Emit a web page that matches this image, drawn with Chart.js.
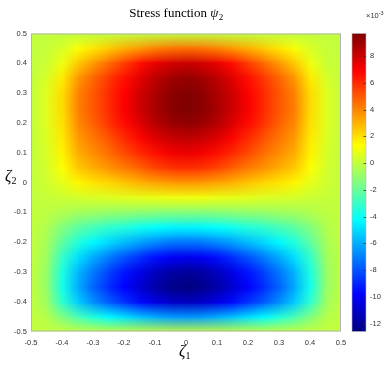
<!DOCTYPE html>
<html lang="en">
<head>
<meta charset="UTF-8">
<title>Stress function psi2</title>
<script src="https://cdn.jsdelivr.net/npm/chart.js@4.4.1/dist/chart.umd.min.js"></script>
<style>
  html, body { margin: 0; padding: 0; background: #fff; }
  #box { position: relative; width: 389px; height: 365px; }
</style>
</head>
<body>
<div id="box"><canvas id="cv"></canvas></div>
<script>
// grid of the field: columns follow zeta1, rows follow zeta2 (bottom row first)
const zeta1 = [-0.5, -0.45, -0.4, -0.35, -0.3, -0.25, -0.2, -0.15, -0.1, -0.05, 0, 0.05, 0.1, 0.15, 0.2, 0.25, 0.3, 0.35, 0.4, 0.45, 0.5];
const zeta2 = [-0.5, -0.45, -0.4, -0.35, -0.3, -0.25, -0.2, -0.15, -0.1, -0.05, 0, 0.05, 0.1, 0.15, 0.2, 0.25, 0.3, 0.35, 0.4, 0.45, 0.5];

// psi2 in units of 1e-3
const psi2 = [
  [0, 0, 0, 0, 0, 0, 0, 0, 0, 0, 0, 0, 0, 0, 0, 0, 0, 0, 0, 0, 0],
  [0, -0.3, -1.4, -2.6, -3.5, -4.3, -4.9, -5.5, -6.0, -6.4, -6.5, -6.4, -6.0, -5.5, -4.9, -4.3, -3.5, -2.6, -1.4, -0.3, 0],
  [0, -0.8, -3.2, -5.3, -6.7, -7.8, -8.7, -9.6, -10.4, -11.0, -11.2, -11.0, -10.4, -9.6, -8.7, -7.8, -6.7, -5.3, -3.2, -0.8, 0],
  [0, -1.0, -3.8, -6.0, -7.6, -8.8, -9.8, -10.8, -11.7, -12.3, -12.6, -12.3, -11.7, -10.8, -9.8, -8.8, -7.6, -6.0, -3.8, -1.0, 0],
  [0, -1.0, -3.6, -5.8, -7.2, -8.4, -9.4, -10.3, -11.2, -11.8, -12.0, -11.8, -11.2, -10.3, -9.4, -8.4, -7.2, -5.8, -3.6, -1.0, 0],
  [0, -0.8, -3.1, -4.9, -6.1, -7.1, -8.0, -8.8, -9.5, -10.0, -10.2, -10.0, -9.5, -8.8, -8.0, -7.1, -6.1, -4.9, -3.1, -0.8, 0],
  [0, -0.6, -2.2, -3.5, -4.4, -5.1, -5.7, -6.3, -6.8, -7.2, -7.3, -7.2, -6.8, -6.3, -5.7, -5.1, -4.4, -3.5, -2.2, -0.6, 0],
  [0, -0.4, -1.4, -2.2, -2.7, -3.2, -3.5, -3.9, -4.2, -4.4, -4.5, -4.4, -4.2, -3.9, -3.5, -3.2, -2.7, -2.2, -1.4, -0.4, 0],
  [0, -0.1, -0.4, -0.7, -0.8, -1.0, -1.1, -1.2, -1.3, -1.4, -1.4, -1.4, -1.3, -1.2, -1.1, -1.0, -0.8, -0.7, -0.4, -0.1, 0],
  [0, 0.1, 0.2, 0.4, 0.5, 0.6, 0.7, 0.8, 0.9, 1.0, 1.0, 1.0, 0.9, 0.8, 0.7, 0.6, 0.5, 0.4, 0.2, 0.1, 0],
  [0, 0.3, 0.8, 1.5, 1.9, 2.2, 2.6, 3.0, 3.3, 3.5, 3.6, 3.5, 3.3, 3.0, 2.6, 2.2, 1.9, 1.5, 0.8, 0.3, 0],
  [0, 0.4, 1.3, 2.5, 3.1, 3.7, 4.2, 4.8, 5.4, 5.8, 5.9, 5.8, 5.4, 4.8, 4.2, 3.7, 3.1, 2.5, 1.3, 0.4, 0],
  [0, 0.5, 1.6, 3.1, 3.8, 4.5, 5.3, 6.0, 6.6, 7.1, 7.3, 7.1, 6.6, 6.0, 5.3, 4.5, 3.8, 3.1, 1.6, 0.5, 0],
  [0, 0.6, 1.8, 3.5, 4.3, 5.1, 6.0, 6.8, 7.6, 8.1, 8.3, 8.1, 7.6, 6.8, 6.0, 5.1, 4.3, 3.5, 1.8, 0.6, 0],
  [0, 0.7, 2.0, 3.9, 4.8, 5.8, 6.7, 7.6, 8.5, 9.1, 9.3, 9.1, 8.5, 7.6, 6.7, 5.8, 4.8, 3.9, 2.0, 0.7, 0],
  [0, 0.7, 2.1, 4.1, 5.0, 6.0, 7.0, 8.0, 8.8, 9.5, 9.7, 9.5, 8.8, 8.0, 7.0, 6.0, 5.0, 4.1, 2.1, 0.7, 0],
  [0, 0.7, 2.1, 4.0, 5.0, 6.0, 6.9, 7.9, 8.7, 9.4, 9.6, 9.4, 8.7, 7.9, 6.9, 6.0, 5.0, 4.0, 2.1, 0.7, 0],
  [0, 0.5, 1.8, 3.6, 4.7, 5.7, 6.6, 7.5, 8.4, 9.0, 9.2, 9.0, 8.4, 7.5, 6.6, 5.7, 4.7, 3.6, 1.8, 0.5, 0],
  [0, 0.2, 1.0, 2.5, 3.6, 4.6, 5.6, 6.6, 7.4, 7.9, 8.1, 7.9, 7.4, 6.6, 5.6, 4.6, 3.6, 2.5, 1.0, 0.2, 0],
  [0, 0.1, 0.5, 1.2, 1.9, 2.5, 3.1, 3.6, 4.1, 4.4, 4.5, 4.4, 4.1, 3.6, 3.1, 2.5, 1.9, 1.2, 0.5, 0.1, 0],
  [0, 0, 0, 0, 0, 0, 0, 0, 0, 0, 0, 0, 0, 0, 0, 0, 0, 0, 0, 0, 0]
];

const xTicks = [-0.5, -0.4, -0.3, -0.2, -0.1, 0, 0.1, 0.2, 0.3, 0.4, 0.5];
const yTicks = [-0.5, -0.4, -0.3, -0.2, -0.1, 0, 0.1, 0.2, 0.3, 0.4, 0.5];
const cbTicks = [-12, -10, -8, -6, -4, -2, 0, 2, 4, 6, 8];

const flat = psi2.flat();
const cMin = Math.min(...flat), cMax = Math.max(...flat);

const tickFont = { family: 'Liberation Sans', size: 7.5 };
const tickColor = '#333';
const fmt = v => String(Math.round(v * 10) / 10);

// matlab jet
function jet(t) {
  t = Math.max(0, Math.min(1, t));
  const c = v => Math.round(255 * Math.max(0, Math.min(1, v)));
  return [c(Math.min(4 * t - 1.5, -4 * t + 4.5)), c(Math.min(4 * t - 0.5, -4 * t + 3.5)), c(Math.min(4 * t + 0.5, -4 * t + 2.5))];
}

const heatmap = {
  id: 'heatmap',
  beforeDatasetsDraw(chart) {
    const { ctx, chartArea: a, scales: { x, y } } = chart;
    const nx = zeta1.length, ny = zeta2.length;
    const off = document.createElement('canvas');
    off.width = nx; off.height = ny;
    const octx = off.getContext('2d');
    const img = octx.createImageData(nx, ny);
    for (let j = 0; j < ny; j++) {
      for (let i = 0; i < nx; i++) {
        const col = jet((psi2[j][i] - cMin) / (cMax - cMin));
        const k = ((ny - 1 - j) * nx + i) * 4;
        img.data[k] = col[0]; img.data[k + 1] = col[1]; img.data[k + 2] = col[2]; img.data[k + 3] = 255;
      }
    }
    octx.putImageData(img, 0, 0);
    const dx = (zeta1[1] - zeta1[0]) / 2, dy = (zeta2[1] - zeta2[0]) / 2;
    const x0 = x.getPixelForValue(zeta1[0] - dx), x1 = x.getPixelForValue(zeta1[nx - 1] + dx);
    const y0 = y.getPixelForValue(zeta2[ny - 1] + dy), y1 = y.getPixelForValue(zeta2[0] - dy);
    ctx.save();
    ctx.beginPath();
    ctx.rect(a.left, a.top, a.width, a.height);
    ctx.clip();
    ctx.imageSmoothingEnabled = true;
    ctx.drawImage(off, x0, y0, x1 - x0, y1 - y0);
    ctx.restore();
    ctx.save();
    ctx.strokeStyle = '#b4b4b4';
    ctx.lineWidth = 1;
    ctx.strokeRect(a.left + 0.5, a.top + 0.5, a.width - 1, a.height - 1);
    ctx.restore();
  },
  afterDraw(chart) {
    const { ctx, chartArea: a, scales: { cb } } = chart;
    // colorbar
    const bl = a.right + 11, bw = 14;
    const top = cb.getPixelForValue(cMax), bot = cb.getPixelForValue(cMin);
    const g = ctx.createLinearGradient(0, bot, 0, top);
    for (let s = 0; s <= 32; s++) {
      const c = jet(s / 32);
      g.addColorStop(s / 32, `rgb(${c[0]},${c[1]},${c[2]})`);
    }
    ctx.save();
    ctx.fillStyle = g;
    ctx.fillRect(bl, top, bw, bot - top);
    ctx.strokeStyle = '#b4b4b4';
    ctx.lineWidth = 0.6;
    ctx.strokeRect(bl, top, bw, bot - top);
    ctx.strokeStyle = '#333';
    ctx.lineWidth = 0.8;
    cbTicks.forEach(v => {
      const py = Math.round(cb.getPixelForValue(v)) + 0.5;
      ctx.beginPath();
      ctx.moveTo(bl + bw - 2.5, py); ctx.lineTo(bl + bw, py);
      ctx.stroke();
    });
    // exponent
    ctx.fillStyle = tickColor;
    ctx.textBaseline = 'alphabetic';
    ctx.textAlign = 'left';
    ctx.font = '7.5px "Liberation Sans"';
    ctx.fillText('\u00d710', bl + 14, 18);
    const w = ctx.measureText('\u00d710').width;
    ctx.font = '5.5px "Liberation Sans"';
    ctx.fillText('-3', bl + 14 + w, 15);

    // title
    ctx.fillStyle = '#000';
    const t1 = 'Stress function ';
    ctx.font = '13px "Liberation Serif"';
    const w1 = ctx.measureText(t1).width;
    ctx.font = 'italic 13px "Liberation Serif"';
    const w2 = ctx.measureText('\u03c8').width;
    ctx.font = '9px "Liberation Serif"';
    const w3 = ctx.measureText('2').width;
    let tx = 176 - (w1 + w2 + w3) / 2;
    ctx.font = '13px "Liberation Serif"';
    ctx.fillText(t1, tx, 17);
    tx += w1;
    ctx.font = 'italic 13px "Liberation Serif"';
    ctx.fillText('\u03c8', tx, 17);
    tx += w2;
    ctx.font = '9px "Liberation Serif"';
    ctx.fillText('2', tx + 0.5, 20);

    // axis labels
    ctx.font = 'italic 16px "Liberation Serif"';
    const zw = ctx.measureText('\u03b6').width;
    const xc = (a.left + a.right) / 2;
    ctx.fillText('\u03b6', xc - 7, 356);
    ctx.font = '10px "Liberation Serif"';
    ctx.fillText('1', xc - 7 + zw, 359);
    ctx.font = 'italic 16px "Liberation Serif"';
    ctx.fillText('\u03b6', 5, 181);
    ctx.font = '10px "Liberation Serif"';
    ctx.fillText('2', 5 + zw, 184);
    ctx.restore();
  }
};

new Chart(document.getElementById('cv'), {
  type: 'scatter',
  data: { datasets: [] },
  options: {
    responsive: true,
    maintainAspectRatio: false,
    animation: false,
    layout: { padding: { top: 23, left: 0, right: 0, bottom: 0 }, autoPadding: false },
    plugins: { legend: { display: false }, tooltip: { enabled: false } },
    scales: {
      x: {
        type: 'linear', position: 'bottom', min: -0.5, max: 0.5,
        afterBuildTicks: s => { s.ticks = xTicks.map(v => ({ value: v })); },
        afterFit: s => { s.height = 32; },
        ticks: { font: tickFont, color: tickColor, padding: 7, maxRotation: 0, autoSkip: false, callback: fmt },
        grid: { display: false, drawTicks: false },
        border: { display: false }
      },
      y: {
        type: 'linear', position: 'left', min: -0.5, max: 0.5,
        afterBuildTicks: s => { s.ticks = yTicks.map(v => ({ value: v })); },
        afterFit: s => { s.width = 31; },
        ticks: { font: tickFont, color: tickColor, padding: 4, autoSkip: false, callback: fmt },
        grid: { display: false, drawTicks: false },
        border: { display: false }
      },
      cb: {
        type: 'linear', axis: 'y', position: 'right', min: cMin, max: cMax,
        afterBuildTicks: s => { s.ticks = cbTicks.map(v => ({ value: v })); },
        afterFit: s => { s.width = 48; },
        ticks: { font: tickFont, color: tickColor, padding: 29, autoSkip: false, callback: v => String(v) },
        grid: { display: false, drawTicks: false },
        border: { display: false }
      }
    }
  },
  plugins: [heatmap]
});
</script>
</body>
</html>
